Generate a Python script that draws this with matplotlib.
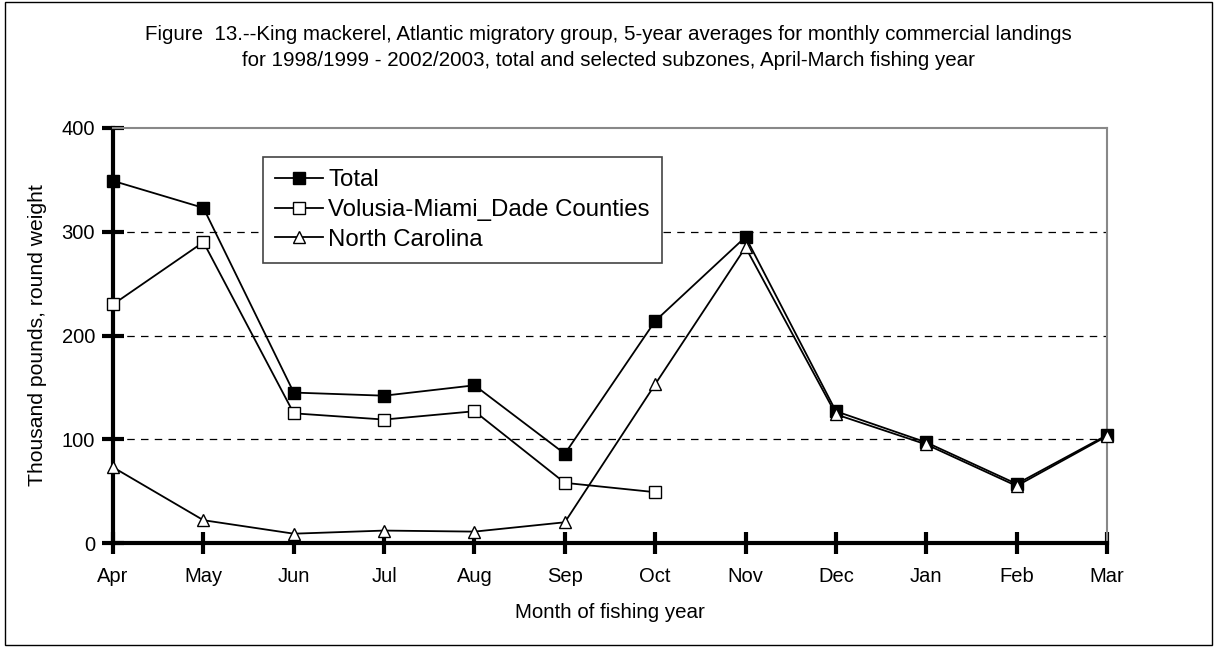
import matplotlib.pyplot as plt
import numpy as np
from matplotlib.patches import Rectangle

plt.rcParams['font.family'] = ['Liberation Sans', 'DejaVu Sans']

months = ['Apr', 'May', 'Jun', 'Jul', 'Aug', 'Sep', 'Oct', 'Nov', 'Dec', 'Jan', 'Feb', 'Mar']
total = [349, 323, 145, 142, 152, 86, 214, 295, 127, 97, 57, 104]
volusia = [230, 290, 125, 119, 127, 58, 49, np.nan, np.nan, np.nan, np.nan, np.nan]
north_carolina = [73, 22, 9, 12, 11, 20, 153, 285, 124, 95, 55, 103]
y_ticks = [0, 100, 200, 300, 400]

fig = plt.figure(figsize=(12.17, 6.48), dpi=100)
ax = fig.add_axes([0.0929, 0.162, 0.8167, 0.6405])

# outer frame around the whole figure
fig.patches.append(Rectangle((0.004, 0.004), 0.992, 0.993, transform=fig.transFigure,
                             fill=False, edgecolor='black', linewidth=1))

x = np.arange(len(months))
ax.plot(x, total, '-s', color='black', lw=1.3, ms=8, mfc='black', mec='black',
        label='Total', zorder=3, clip_on=False)
ax.plot(x, volusia, '-s', color='black', lw=1.3, ms=8, mfc='white', mec='black',
        label='Volusia-Miami_Dade Counties', zorder=4, clip_on=False)
ax.plot(x, north_carolina, '-^', color='black', lw=1.3, ms=8, mfc='white', mec='black',
        label='North Carolina', zorder=5, clip_on=False)

ax.set_xlim(0, len(months) - 1)
ax.set_ylim(0, 400)
ax.set_xticks(x)
ax.set_xticklabels(months, fontsize=14.5)
ax.set_yticks(y_ticks)
ax.set_yticklabels([str(v) for v in y_ticks], fontsize=14.5)

for v in [100, 200, 300]:
    ax.axhline(v, color='black', lw=0.9, ls=(0, (6, 5)), zorder=1)

ax.spines['left'].set_linewidth(3)
ax.spines['bottom'].set_linewidth(3)
ax.spines['top'].set_color('#888888')
ax.spines['right'].set_color('#888888')
ax.spines['top'].set_linewidth(1.5)
ax.spines['right'].set_linewidth(1.5)
ax.tick_params(axis='both', direction='inout', length=16, width=3, colors='black')
ax.tick_params(axis='x', pad=9)
ax.tick_params(axis='y', pad=5)

ax.set_xlabel('Month of fishing year', fontsize=14.8)
ax.set_ylabel('Thousand pounds, round weight', fontsize=15.2)
ax.xaxis.set_label_coords(0.5, -0.145)
ax.yaxis.set_label_coords(-0.066, 0.5)

fig.text(0.5, 0.946, 'Figure  13.--King mackerel, Atlantic migratory group, 5-year averages for monthly commercial landings',
         ha='center', va='center', fontsize=14.8)
fig.text(0.5, 0.907, 'for 1998/1999 - 2002/2003, total and selected subzones, April-March fishing year',
         ha='center', va='center', fontsize=14.8)

leg = ax.legend(loc='upper left', bbox_to_anchor=(0.151, 0.93), fontsize=17.3, frameon=True,
                fancybox=False, edgecolor='#444444', framealpha=1, borderpad=0.5,
                handlelength=2.0, handletextpad=0.2, labelspacing=0.33, borderaxespad=0)
leg.get_frame().set_linewidth(1.2)

fig.savefig('out.png', dpi=100)
